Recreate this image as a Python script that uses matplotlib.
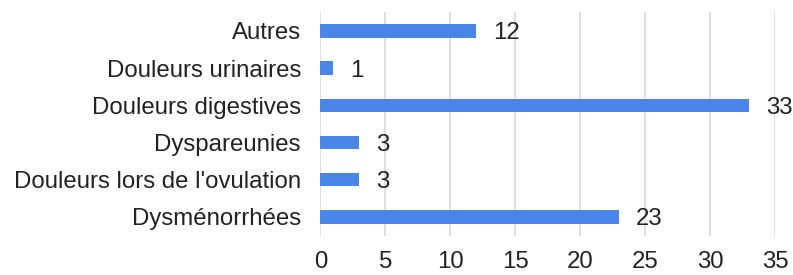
import matplotlib
matplotlib.use('Agg')
import matplotlib.pyplot as plt

categories = ['Autres', 'Douleurs urinaires', 'Douleurs digestives', 'Dyspareunies',
              "Douleurs lors de l'ovulation", 'Dysménorrhées']
values = [12, 1, 33, 3, 3, 23]
xticks = [0, 5, 10, 15, 20, 25, 30, 35]

plt.rcParams['font.family'] = ['Liberation Sans', 'DejaVu Sans']

fig = plt.figure(figsize=(7.93, 2.75), dpi=100)
ax = fig.add_axes([0.404, 0.142, 0.5737, 0.8145])

pos = list(range(len(categories)))[::-1]
ax.barh(pos, values, height=0.36, color='#4a86e8', zorder=3)
for p, v in zip(pos, values):
    ax.text(v + 1.3, p, str(v), va='center_baseline', ha='left', fontsize=17.3, color='#222222')

ax.set_xlim(0, 35)
ax.set_ylim(-0.51, 5.51)
ax.set_xticks(xticks)
ax.set_yticks(pos)
ax.set_yticklabels(categories)
ax.grid(axis='x', color='#d9d9d9', linewidth=1.2, zorder=0)
for s in ax.spines.values():
    s.set_visible(False)
ax.tick_params(axis='both', length=0, labelsize=17.3, colors='#222222')
ax.tick_params(axis='x', pad=11)
ax.tick_params(axis='y', pad=14)

fig.savefig('out.png', dpi=100)
